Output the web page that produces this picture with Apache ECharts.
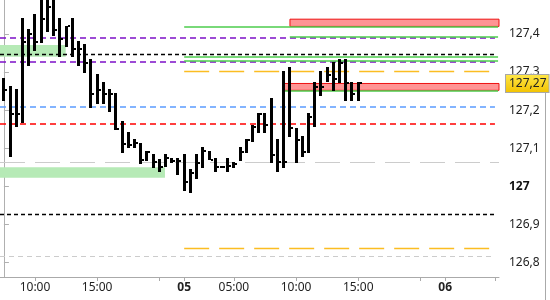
<!DOCTYPE html>
<html>
<head>
<meta charset="utf-8">
<script src="https://cdn.jsdelivr.net/npm/echarts@6/dist/echarts.min.js"></script>
<style>html,body{margin:0;padding:0;background:#fff}#c{width:550px;height:300px}</style>
</head>
<body>
<div id="c"></div>
<script>
// ---- data ----
// bar slots (30-min bars), index = position on the time axis
const highs  = [127.284,127.263,127.255,127.442,127.413,127.453,127.516,127.542,127.502,127.442,
                127.421,127.442,127.382,127.374,127.334,127.295,127.274,127.255,127.244,127.171,
                127.143,127.124,127.114,127.093,127.084,127.072,127.084,127.073,127.073,127.084,
                127.044,127.085,127.103,127.093,127.073,127.054,127.073,127.063,127.103,127.124,
                127.161,127.192,127.192,127.231,127.124,127.303,127.313,127.154,127.132,127.192,
                127.274,127.303,127.313,127.326,127.334,127.334,127.274,127.274];
const lows   = [127.225,127.078,127.156,127.165,127.317,127.356,127.377,127.405,127.396,127.339,
                127.367,127.339,127.317,127.298,127.206,127.216,127.216,127.196,127.148,127.088,
                127.100,127.100,127.058,127.067,127.049,127.038,127.051,127.060,127.029,126.988,
                126.981,127.019,127.049,127.069,127.038,127.049,127.038,127.049,127.066,127.088,
                127.117,127.139,127.139,127.060,127.038,127.049,127.129,127.060,127.078,127.088,
                127.156,127.238,127.275,127.251,127.270,127.225,127.225,127.225];
const closes = [127.253,127.190,127.190,127.379,127.400,127.379,127.439,127.471,127.411,127.387,
                127.421,127.361,127.361,127.323,127.242,127.253,127.242,127.242,127.150,127.111,
                127.108,127.113,127.069,127.090,127.064,127.051,127.073,127.066,127.066,127.012,
                127.034,127.060,127.093,127.069,127.051,127.051,127.054,127.058,127.091,127.121,
                127.156,127.190,127.160,127.082,127.063,127.063,127.154,127.121,127.091,127.181,
                127.261,127.261,127.292,127.282,127.323,127.270,127.242,127.270];
const lastPrice = 127.27;

// time axis ticks (slot index) and their labels
const tickSlots  = [5, 15, 25, 29, 37, 47, 57, 67, 71, 79];
const tickLabels = ['10:00','15:00','','05','05:00','10:00','15:00','','06',''];
const priceTicks = [126.8, 126.9, 127.0, 127.1, 127.2, 127.3, 127.4];

// horizontal levels: price, from slot, to slot
const levelPrices = [127.391, 127.347, 127.326, 127.210, 127.163, 127.063, 126.927, 126.838, 126.816, 127.302,
                     127.418, 127.394, 127.341, 127.329, 127.250];
const levelFrom   = [-0.63, -0.63, -0.63, -0.63, -0.63, -0.63, -0.63, 29, -0.63, 29,
                     29, 46, 29, 29, 45.1];
const levelTo     = [79, 79, 79, 79, 79, 79.65, 79, 78.1, 79, 78.2,
                     79.5, 79.5, 79.5, 79.5, 79.5];
const levelKind   = ['purple','black','purple','blue','red','grayLong','black','orange','grayShort','orange',
                     'green','green','green','green','green'];

// zones: low price, high price, from slot, to slot
const zoneLow  = [127.340, 127.022, 127.420, 127.252];
const zoneHigh = [127.371, 127.050, 127.439, 127.270];
const zoneFrom = [-0.63, -0.63, 46.02, 45.1];
const zoneTo   = [9.94, 25.91, 79.65, 79.65];
const zoneKind = ['greenZone','greenZone','redBox','redBox'];

// ---- styles ----
const lineStyles = {
  purple:    {color:'#7d0fc8', type:[6,4], width:1.5},
  black:     {color:'#000000', type:[4,3], width:1.3},
  blue:      {color:'#5b9cff', type:[6,4], width:1.5},
  red:       {color:'#ff0000', type:[6,4], width:1.5},
  grayLong:  {color:'#cccccc', type:[25,10], width:1.2},
  grayShort: {color:'#cccccc', type:[5,4], width:1.2},
  orange:    {color:'#fbbd22', type:[25,10], width:1.3},
  green:     {color:'#4ccc4c', type:'solid', width:1.5}
};
const zoneStyles = {
  greenZone: {color:'#b6eab6', borderWidth:0},
  redBox:    {color:'#ff9494', borderColor:'#ee1111', borderWidth:1}
};

const FONT = 'Noto Sans';
const chart = echarts.init(document.getElementById('c'), null, {renderer:'canvas'});

const barData = highs.map((h, i) => [i, h, lows[i], closes[i]]);

const markLineData = levelPrices.map((p, k) => [
  {coord:[levelFrom[k], p], lineStyle: lineStyles[levelKind[k]]},
  {coord:[levelTo[k], p]}
]);
const markAreaData = zoneLow.map((lo, k) => [
  {coord:[zoneFrom[k], zoneHigh[k]], itemStyle: zoneStyles[zoneKind[k]]},
  {coord:[zoneTo[k], lo]}
]);

function renderHLC(params, api) {
  const i = api.value(0);
  const h = api.coord([i, api.value(1)]);
  const l = api.coord([i, api.value(2)]);
  const c = api.coord([i, api.value(3)]);
  const x = Math.round(h[0] - 1.5);
  const top = Math.round(h[1]);
  const bot = Math.max(Math.round(l[1]), top + 2);
  return {
    type:'group',
    children:[
      {type:'rect', shape:{x:x, y:top, width:3, height:bot - top}, style:{fill:'#000'}},
      {type:'rect', shape:{x:x + 3, y:Math.round(c[1]) - 1, width:2, height:2}, style:{fill:'#000'}}
    ]
  };
}

chart.setOption({
  animation:false,
  backgroundColor:'#ffffff',
  grid:{left:0, right:51, top:0, bottom:23, containLabel:false, outerBoundsMode:'none'},
  xAxis:{
    type:'value', min:-0.63, max:79.65,
    axisLine:{show:true, lineStyle:{color:'#aaaaaa', width:1}},
    axisTick:{show:true, length:4, lineStyle:{color:'#aaaaaa'}, customValues: tickSlots},
    splitLine:{show:false},
    axisLabel:{
      customValues: tickSlots.filter((s, k) => tickLabels[k] !== ''),
      margin:5, color:'#222', fontFamily:FONT, fontSize:12,
      formatter: v => {
        const lab = tickLabels[tickSlots.indexOf(Math.round(v))] || '';
        return lab.indexOf(':') < 0 ? '{b|' + lab + '}' : lab;
      },
      rich:{b:{fontWeight:'bold', fontFamily:FONT, fontSize:12, color:'#222'}}
    }
  },
  yAxis:{
    type:'value', position:'right', min:126.7614, max:127.4894, scale:true,
    axisLine:{show:true, lineStyle:{color:'#b0b0b0', width:1}},
    axisTick:{show:true, length:5, lineStyle:{color:'#b0b0b0'}, customValues: priceTicks},
    splitLine:{show:false},
    axisLabel:{
      customValues: priceTicks,
      margin:10, color:'#222', fontFamily:FONT, fontSize:12,
      formatter: v => {
        const s = (Math.round(v * 10) / 10).toString().replace('.', ',');
        return s.indexOf(',') < 0 ? '{b|' + s + '}' : s;
      },
      rich:{b:{fontWeight:'bold', fontFamily:FONT, fontSize:12, color:'#111'}}
    },
    axisPointer:{
      show:true, type:'none', value:lastPrice, status:'show', snap:false, triggerTooltip:false,
      label:{
        show:true, margin:7, fontFamily:FONT, fontSize:12, color:'#222',
        padding:[3,2,2,3],
        formatter: p => Number(p.value).toFixed(2).replace('.', ','),
        backgroundColor: new echarts.graphic.LinearGradient(0,0,0,1,[{offset:0,color:'#ffe84a'},{offset:1,color:'#f2c200'}]),
        borderColor:'#a8a8a8', borderWidth:1, borderRadius:0, shadowBlur:0
      }
    }
  },
  series:[
    {
      type:'line', data:[], silent:true, z:1,
      markArea:{silent:true, data:markAreaData, label:{show:false}},
      markLine:{silent:true, symbol:['none','none'], label:{show:false}, data:markLineData, animation:false}
    },
    {
      type:'custom', renderItem:renderHLC, data:barData, z:5, silent:true,
      encode:{x:0, y:[1,2,3]}, clip:true
    }
  ],
  graphic:[
    {type:'rect', shape:{x:545, y:93, width:1, height:207}, style:{fill:'#aaaaaa'}, silent:true}
  ]
});
</script>
</body>
</html>
